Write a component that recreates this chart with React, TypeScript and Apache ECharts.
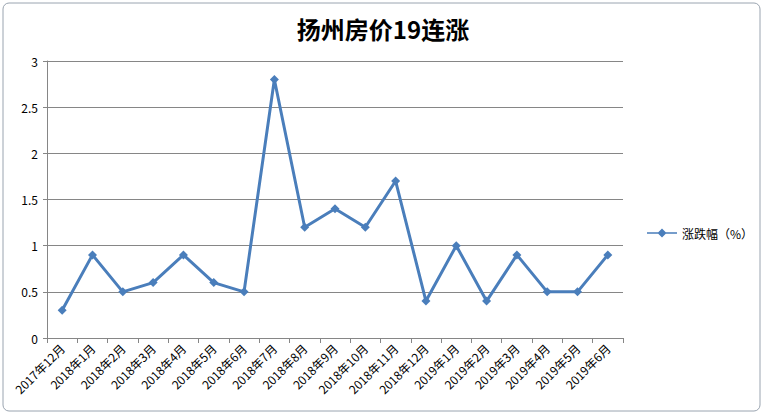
import React, { useEffect, useRef } from "react";
import * as echarts from "echarts";

const categories = [
  "2017年12月", "2018年1月", "2018年2月", "2018年3月", "2018年4月", "2018年5月",
  "2018年6月", "2018年7月", "2018年8月", "2018年9月", "2018年10月", "2018年11月",
  "2018年12月", "2019年1月", "2019年2月", "2019年3月", "2019年4月", "2019年5月", "2019年6月",
];
const values = [0.3, 0.9, 0.5, 0.6, 0.9, 0.6, 0.5, 2.8, 1.2, 1.4, 1.2, 1.7, 0.4, 1.0, 0.4, 0.9, 0.5, 0.5, 0.9];
const seriesName = "涨跌幅（%）";
const title = "扬州房价19连涨";

export default function App() {
  const ref = useRef<HTMLDivElement>(null);
  useEffect(() => {
    const chart = echarts.init(ref.current!, null, { renderer: "svg" });
    const font = "'Noto Sans CJK SC', 'Liberation Sans', sans-serif";
    chart.setOption({
      animation: false,
      backgroundColor: "#ffffff",
      textStyle: { fontFamily: font },
      title: {
        text: title,
        left: "center",
        top: 11,
        textStyle: { fontSize: 24, fontWeight: "bold", color: "#000", fontFamily: font },
      },
      legend: {
        data: [{ name: seriesName, icon: "path://M0,4.2H30V5.8H0Z M15,0.5L19.5,5L15,9.5L10.5,5Z" }],
        left: 642,
        top: 222,
        orient: "vertical",
        itemWidth: 30,
        itemHeight: 10,
        itemGap: 4,
        textStyle: { fontSize: 12, color: "#000" },
      },
      grid: { left: 47, right: 143, top: 61, bottom: 81 },
      xAxis: {
        type: "category",
        data: categories,
        boundaryGap: true,
        axisLine: { lineStyle: { color: "#868686", width: 1 } },
        axisTick: { show: true, alignWithLabel: false, length: 5, lineStyle: { color: "#868686" } },
        axisLabel: { rotate: 45, fontSize: 12, color: "#000", margin: 8, interval: 0 },
      },
      yAxis: {
        type: "value",
        min: 0,
        max: 3,
        interval: 0.5,
        axisLine: { show: true, lineStyle: { color: "#868686" } },
        axisTick: { show: true, length: 4, lineStyle: { color: "#868686" } },
        axisLabel: { fontSize: 12, color: "#000", margin: 9 },
        splitLine: { lineStyle: { color: "#868686", width: 1 } },
      },
      series: [
        {
          name: seriesName,
          type: "line",
          data: values,
          symbol: "diamond",
          symbolSize: 9,
          lineStyle: { color: "#4a7ebb", width: 3 },
          itemStyle: { color: "#4a7ebb" },
        },
      ],
      graphic: [
        {
          type: "rect",
          shape: { x: 3, y: 3, width: 757, height: 408, r: 6 },
          style: { fill: "none", stroke: "#9aa4b0", lineWidth: 1 },
          silent: true,
        },
      ],
    });
    return () => chart.dispose();
  }, []);
  return (
    <div
      ref={ref}
      style={{ position: "fixed", left: 0, top: 0, width: 766, height: 419 }}
    />
  );
}
